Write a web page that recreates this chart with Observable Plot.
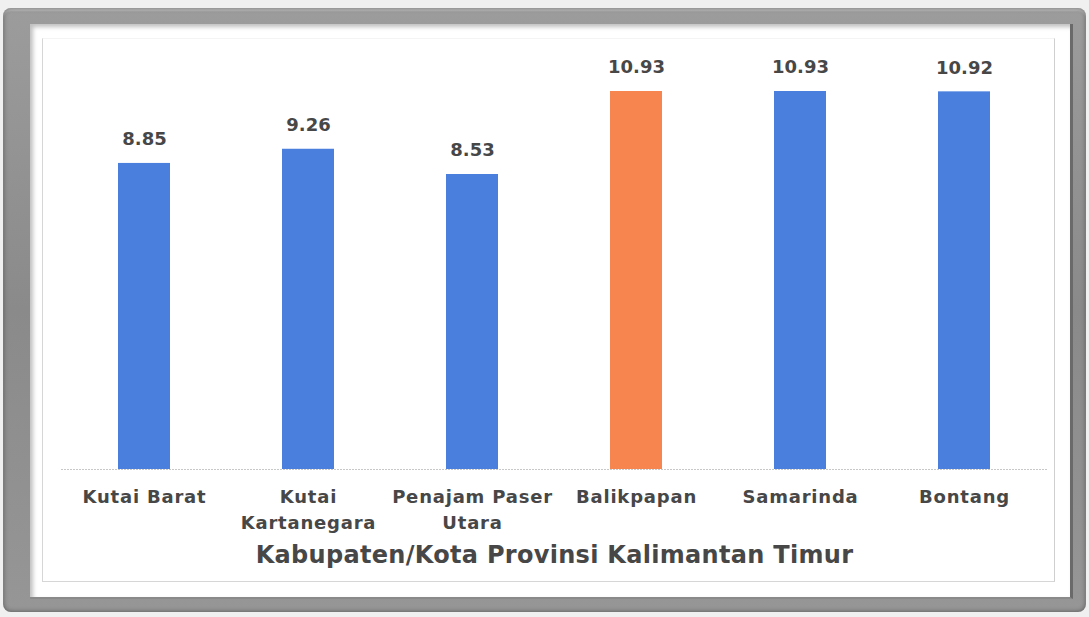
<!DOCTYPE html>
<html>
<head>
<meta charset="utf-8">
<script src="https://cdn.jsdelivr.net/npm/d3@7"></script>
<script src="https://cdn.jsdelivr.net/npm/@observablehq/plot@0.6"></script>
<style>
  html, body { margin: 0; padding: 0; }
  body { width: 1089px; height: 617px; position: relative; overflow: hidden; background: #f0f0f0; font-family: "DejaVu Sans", sans-serif; }
  #frame { position: absolute; left: 3px; top: 8px; width: 1083px; height: 604px; border-radius: 8px;
    background: linear-gradient(180deg, #9c9c9c, #8a8a8a 50%, #969696);
    box-shadow: inset 0 0 5px rgba(0,0,0,0.45), inset 0 3px 2px rgba(255,255,255,0.35); }
  #inner { position: absolute; left: 30px; top: 24px; width: 1040px; height: 573px; background: #ffffff;
    box-shadow: inset 3px 3px 4px rgba(0,0,0,0.25); border-right: 3px solid #6a6a6a; border-bottom: 2px solid #8a8a8a; }
  #line { position: absolute; left: 42px; top: 38px; width: 1011px; height: 542px; border: 1px solid #d6d6d6; border-top-color: #f4f4f4; border-right-color: #cfcfcf; }
  #chart { position: absolute; left: 0; top: 0; }
  .xticks text { letter-spacing: 0.8px; }
  .xtitle text { letter-spacing: 0.3px; }
</style>
</head>
<body>
<div id="frame"></div>
<div id="inner"></div>
<div id="line"></div>
<div id="chart"></div>
<script>
const categories = ["Kutai Barat", "Kutai Kartanegara", "Penajam Paser Utara", "Balikpapan", "Samarinda", "Bontang"];
const tickLabels = ["Kutai Barat", "Kutai\nKartanegara", "Penajam Paser\nUtara", "Balikpapan", "Samarinda", "Bontang"];
const values = [8.85, 9.26, 8.53, 10.93, 10.93, 10.92];
const highlight = ["Balikpapan"];
const axisTitle = "Kabupaten/Kota Provinsi Kalimantan Timur";

const data = categories.map((c, i) => ({category: c, value: values[i], hi: highlight.includes(c)}));
const labelOf = new Map(categories.map((c, i) => [c, tickLabels[i]]));

const textColor = "#474747";
const font = "'DejaVu Sans', sans-serif";

const chart = Plot.plot({
  width: 1089,
  height: 617,
  marginLeft: 61,
  marginRight: 42,
  marginTop: 91,
  marginBottom: 148,
  style: {background: "transparent", fontFamily: font, color: textColor},
  x: {domain: categories, paddingInner: 0.684, paddingOuter: 0.342, axis: null},
  y: {domain: [0, 10.93], axis: null},
  marks: [
    Plot.ruleY([0], {stroke: "#c8c8c8", strokeDasharray: "2,1"}),
    Plot.barY(data, {x: "category", y: "value", fill: d => d.hi ? "#f7854f" : "#4a7fdd"}),
    Plot.text(data, {x: "category", y: "value", text: d => d.value.toFixed(2), dy: -24,
      fontSize: 18, fontWeight: "bold", fill: textColor}),
    Plot.axisX({tickSize: 0, tickPadding: 16, tickFormat: d => labelOf.get(d), fontSize: 18,
      fontWeight: "bold", fill: textColor, lineHeight: 1.4, label: null, textAnchor: "middle", className: "xticks"}),
    Plot.text([axisTitle], {frameAnchor: "bottom", dy: 93, fontSize: 24, fontWeight: "bold", fill: textColor, className: "xtitle"})
  ]
});
document.getElementById("chart").appendChild(chart);
</script>
</body>
</html>
